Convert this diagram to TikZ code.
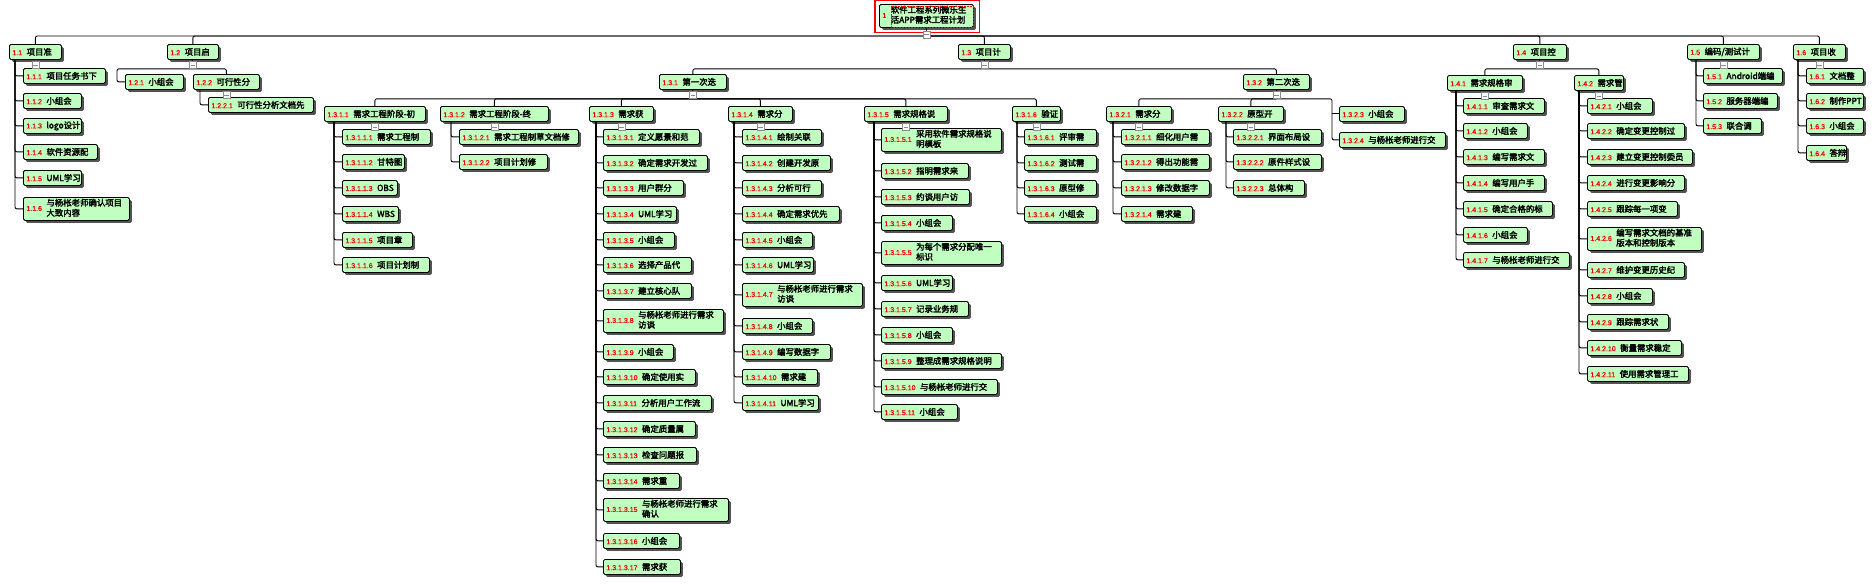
\documentclass[tikz,border=0pt]{standalone}
\usepackage{fontspec}
\usepackage{xcolor}
\usetikzlibrary{shadows}
\setmainfont{Noto Sans CJK SC}
\newfontfamily\wtext{Noto Sans CJK SC}[FakeBold=2.5]
\newfontfamily\wnumf{Liberation Sans}[FakeBold=1]
\definecolor{wbsgreen}{RGB}{192,255,192}
\definecolor{numred}{RGB}{240,0,0}
\newcommand\wnum[1]{{\wnumf\fontsize{7}{9}\selectfont\color{numred}#1}}
\newcommand\wb[6]{\node[wbs] (#1) at (#2,#3) {\makebox[#4pt][l]{\hspace{3pt}\wnum{#5}\hspace{4.5pt}#6}};}
\newcommand\wbb[7]{\node[wbs, minimum height=23pt] (#1) at (#2,#3) {\makebox[#4pt][l]{\hspace{3pt}\wnum{#5}\hspace{4.5pt}\begin{tabular}[c]{@{}l@{}}#6\\#7\end{tabular}}};}
\tikzset{
  wbs/.style={draw, line width=0.8pt, rounded corners=1.5pt, fill=wbsgreen, anchor=north west, inner sep=0pt, minimum height=15pt, font=\wtext\fontsize{8.4}{10}\selectfont, drop shadow={shadow xshift=2.5pt, shadow yshift=-2.5pt, fill=black!75, opacity=0.9}},
  link/.style={line width=0.9pt, rounded corners=2pt},
  tog/.style={draw=black!45, fill=white, line width=0.7pt, minimum size=7pt, inner sep=0pt, path picture={\draw[line width=0.9pt] ([xshift=1.3pt]path picture bounding box.west) -- ([xshift=-1.3pt]path picture bounding box.east);}},
}

\begin{document}
\begin{tikzpicture}[x=1pt,y=-1pt]
        \useasboundingbox (0,0) rectangle (1874,584);

        \wbb{n1}{879}{4}{94}{1}{软件工程系列微乐生}{活APP需求工程计划}
        \draw[red, line width=1.1pt] ([shift={(-4pt,3.4pt)}]n1.north west) rectangle ([shift={(6pt,-5pt)}]n1.south east);
        \draw[red, line width=0.5pt, densely dotted] ([shift={(12pt,-2pt)}]n1.north west) rectangle ([shift={(-1pt,1pt)}]n1.south east);

        \wb{n11}{9}{44}{52}{1.1}{项目准}
        \wb{n12}{167}{44}{51}{1.2}{项目启}
        \wb{n13}{958}{44}{52}{1.3}{项目计}
        \wb{n14}{1513}{44}{53}{1.4}{项目控}
        \wb{n15}{1687}{44}{72}{1.5}{编码/测试计}
        \wb{n16}{1793}{44}{52}{1.6}{项目收}

        \wb{n111}{23}{68}{82}{1.1.1}{项目任务书下}
        \wb{n112}{23}{93}{58}{1.1.2}{小组会}
        \wb{n113}{23}{118}{58}{1.1.3}{logo设计}
        \wb{n114}{23}{144}{74}{1.1.4}{软件资源配}
        \wb{n115}{23}{170}{58}{1.1.5}{UML学习}
        \wbb{n116}{23}{197}{106}{1.1.6}{与杨枨老师确认项目}{大致内容}

        \wb{n121}{125}{74}{58}{1.2.1}{小组会}
        \wb{n122}{193}{74}{66}{1.2.2}{可行性分}
        \wb{n1221}{208}{97}{105}{1.2.2.1}{可行性分析文档先}

        \wb{n131}{659}{74}{67}{1.3.1}{第一次迭}
        \wb{n132}{1243}{74}{66}{1.3.2}{第二次迭}

        \wb{n1311}{324}{106}{101}{1.3.1.1}{需求工程阶段-初}
        \wb{n1312}{440}{106}{108}{1.3.1.2}{需求工程阶段-终}
        \wb{n1313}{589}{106}{64}{1.3.1.3}{需求获}
        \wb{n1314}{728}{106}{64}{1.3.1.4}{需求分}
        \wb{n1315}{864}{106}{83}{1.3.1.5}{需求规格说}
        \wb{n1316}{1012}{106}{48}{1.3.1.6}{验证}

        \wb{n13111}{342}{129}{88}{1.3.1.1.1}{需求工程制}
        \wb{n13112}{342}{154}{62}{1.3.1.1.2}{甘特图}
        \wb{n13113}{342}{180}{55}{1.3.1.1.3}{OBS}
        \wb{n13114}{342}{206}{56}{1.3.1.1.4}{WBS}
        \wb{n13115}{342}{232}{70}{1.3.1.1.5}{项目章}
        \wb{n13116}{342}{257}{87}{1.3.1.1.6}{项目计划制}

        \wb{n13121}{459}{129}{119}{1.3.1.2.1}{需求工程制草文档修}
        \wb{n13122}{459}{154}{88}{1.3.1.2.2}{项目计划修}

        \wb{n13131}{603}{129}{96}{1.3.1.3.1}{定义愿景和范}
        \wb{n13132}{603}{155}{104}{1.3.1.3.2}{确定需求开发过}
        \wb{n13133}{603}{180}{80}{1.3.1.3.3}{用户群分}
        \wb{n13134}{603}{206}{73}{1.3.1.3.4}{UML学习}
        \wb{n13135}{603}{232}{71}{1.3.1.3.5}{小组会}
        \wb{n13136}{603}{257}{88}{1.3.1.3.6}{选择产品代}
        \wb{n13137}{603}{283}{88}{1.3.1.3.7}{建立核心队}
        \wbb{n13138}{603}{309}{120}{1.3.1.3.8}{与杨枨老师进行需求}{访谈}
        \wb{n13139}{603}{344}{70}{1.3.1.3.9}{小组会}
        \wb{n131310}{603}{369}{92}{1.3.1.3.10}{确定使用实}
        \wb{n131311}{603}{395}{108}{1.3.1.3.11}{分析用户工作流}
        \wb{n131312}{603}{421}{92}{1.3.1.3.12}{确定质量属}
        \wb{n131313}{603}{447}{93}{1.3.1.3.13}{检查问题报}
        \wb{n131314}{603}{473}{76}{1.3.1.3.14}{需求重}
        \wbb{n131315}{603}{498}{125}{1.3.1.3.15}{与杨枨老师进行需求}{确认}
        \wb{n131316}{603}{533}{76}{1.3.1.3.16}{小组会}
        \wb{n131317}{603}{559}{77}{1.3.1.3.17}{需求获}

        \wb{n13141}{742}{129}{79}{1.3.1.4.1}{绘制关联}
        \wb{n13142}{742}{155}{88}{1.3.1.4.2}{创建开发原}
        \wb{n13143}{742}{180}{79}{1.3.1.4.3}{分析可行}
        \wb{n13144}{742}{206}{97}{1.3.1.4.4}{确定需求优先}
        \wb{n13145}{742}{232}{70}{1.3.1.4.5}{小组会}
        \wb{n13146}{742}{257}{71}{1.3.1.4.6}{UML学习}
        \wbb{n13147}{742}{283}{120}{1.3.1.4.7}{与杨枨老师进行需求}{访谈}
        \wb{n13148}{742}{318}{70}{1.3.1.4.8}{小组会}
        \wb{n13149}{742}{344}{88}{1.3.1.4.9}{编写数据字}
        \wb{n131410}{742}{369}{75}{1.3.1.4.10}{需求建}
        \wb{n131411}{742}{395}{76}{1.3.1.4.11}{UML学习}

        \wbb{n13151}{881}{128}{120}{1.3.1.5.1}{采用软件需求规格说}{明模板}
        \wb{n13152}{881}{163}{87}{1.3.1.5.2}{指明需求来}
        \wb{n13153}{881}{189}{88}{1.3.1.5.3}{约谈用户访}
        \wb{n13154}{881}{215}{71}{1.3.1.5.4}{小组会}
        \wbb{n13155}{881}{241}{120}{1.3.1.5.5}{为每个需求分配唯一}{标识}
        \wb{n13156}{881}{275}{71}{1.3.1.5.6}{UML学习}
        \wb{n13157}{881}{301}{87}{1.3.1.5.7}{记录业务规}
        \wb{n13158}{881}{327}{71}{1.3.1.5.8}{小组会}
        \wb{n13159}{881}{353}{120}{1.3.1.5.9}{整理成需求规格说明}
        \wb{n131510}{881}{379}{116}{1.3.1.5.10}{与杨枨老师进行交}
        \wb{n131511}{881}{404}{76}{1.3.1.5.11}{小组会}

        \wb{n13161}{1024}{129}{72}{1.3.1.6.1}{评审需}
        \wb{n13162}{1024}{155}{72}{1.3.1.6.2}{测试需}
        \wb{n13163}{1024}{180}{72}{1.3.1.6.3}{原型修}
        \wb{n13164}{1024}{206}{72}{1.3.1.6.4}{小组会}

        \wb{n1321}{1106}{106}{65}{1.3.2.1}{需求分}
        \wb{n1322}{1218}{106}{65}{1.3.2.2}{原型开}
        \wb{n1323}{1339}{106}{65}{1.3.2.3}{小组会}
        \wb{n1324}{1339}{132}{106}{1.3.2.4}{与杨枨老师进行交}

        \wb{n13211}{1121}{129}{88}{1.3.2.1.1}{细化用户需}
        \wb{n13212}{1121}{154}{88}{1.3.2.1.2}{得出功能需}
        \wb{n13213}{1121}{180}{88}{1.3.2.1.3}{修改数据字}
        \wb{n13214}{1121}{206}{71}{1.3.2.1.4}{需求建}
        \wb{n13221}{1233}{129}{88}{1.3.2.2.1}{界面布局设}
        \wb{n13222}{1233}{154}{88}{1.3.2.2.2}{原件样式设}
        \wb{n13223}{1233}{180}{71}{1.3.2.2.3}{总体构}

        \wb{n141}{1447}{75}{75}{1.4.1}{需求规格审}
        \wb{n142}{1574}{75}{49}{1.4.2}{需求管}

        \wb{n1411}{1463}{98}{81}{1.4.1.1}{审查需求文}
        \wb{n1412}{1463}{123}{64}{1.4.1.2}{小组会}
        \wb{n1413}{1463}{149}{81}{1.4.1.3}{编写需求文}
        \wb{n1414}{1463}{175}{81}{1.4.1.4}{编写用户手}
        \wb{n1415}{1463}{201}{89}{1.4.1.5}{确定合格的标}
        \wb{n1416}{1463}{227}{64}{1.4.1.6}{小组会}
        \wb{n1417}{1463}{252}{106}{1.4.1.7}{与杨枨老师进行交}

        \wb{n1421}{1587}{98}{65}{1.4.2.1}{小组会}
        \wb{n1422}{1587}{123}{97}{1.4.2.2}{确定变更控制过}
        \wb{n1423}{1587}{149}{105}{1.4.2.3}{建立变更控制委员}
        \wb{n1424}{1587}{175}{97}{1.4.2.4}{进行变更影响分}
        \wb{n1425}{1587}{201}{90}{1.4.2.5}{跟踪每一项变}
        \wbb{n1426}{1587}{227}{114}{1.4.2.6}{编写需求文档的基准}{版本和控制版本}
        \wb{n1427}{1587}{262}{97}{1.4.2.7}{维护变更历史纪}
        \wb{n1428}{1587}{288}{65}{1.4.2.8}{小组会}
        \wb{n1429}{1587}{314}{81}{1.4.2.9}{跟踪需求状}
        \wb{n14210}{1587}{340}{94}{1.4.2.10}{衡量需求稳定}
        \wb{n14211}{1587}{366}{101}{1.4.2.11}{使用需求管理工}

        \wb{n151}{1703}{68}{79}{1.5.1}{Android端编}
        \wb{n152}{1703}{93}{74}{1.5.2}{服务器端编}
        \wb{n153}{1703}{118}{58}{1.5.3}{联合调}

        \wb{n161}{1806}{68}{57}{1.6.1}{文档整}
        \wb{n162}{1806}{93}{57}{1.6.2}{制作PPT}
        \wb{n163}{1806}{118}{57}{1.6.3}{小组会}
        \wb{n164}{1806}{145}{40}{1.6.4}{答辩}

        \coordinate (b1) at (926,36);
        \draw[link] (n1.south) -- (b1);
        \foreach \c in {n11,n12,n13,n14,n15,n16} {
            \draw[link] (b1) -| (\c.north);
        }

        \coordinate (b12) at ([yshift=-9pt]n12.south);
        \draw[link] (n12.south) -- (b12);
        \draw[link] (b12) -| ([xshift=-8pt]n121.west) -- (n121.west);
        \draw[link] (b12) -| (n122.north);

        \coordinate (b13) at ([yshift=-9pt]n13.south);
        \draw[link] (n13.south) -- (b13);
        \foreach \c in {n131,n132} {
            \draw[link] (b13) -| (\c.north);
        }

        \coordinate (b131) at ([yshift=-9pt]n131.south);
        \draw[link] (n131.south) -- (b131);
        \foreach \c in {n1311,n1312,n1313,n1314,n1315,n1316} {
            \draw[link] (b131) -| (\c.north);
        }

        \coordinate (b132) at ([yshift=-9pt]n132.south);
        \draw[link] (n132.south) -- (b132);
        \foreach \c in {n1321,n1322} {
            \draw[link] (b132) -| (\c.north);
        }
        \draw[link] (b132) -| ([xshift=-7pt]n1324.west) -- (n1324.west);
        \draw[link] ([xshift=-7pt]n1323.west) -- (n1323.west);

        \coordinate (b14) at ([yshift=-9pt]n14.south);
        \draw[link] (n14.south) -- (b14);
        \foreach \c in {n141,n142} {
            \draw[link] (b14) -| (\c.north);
        }

        \coordinate (s11) at (15,59);
        \coordinate (s122) at (200,89);
        \coordinate (s1311) at (334,121);
        \coordinate (s1312) at (451,121);
        \coordinate (s1313) at (596,121);
        \coordinate (s1314) at (734,121);
        \coordinate (s1315) at (874,121);
        \coordinate (s1316) at (1017,121);
        \coordinate (s1321) at (1113,121);
        \coordinate (s1322) at (1226,121);
        \coordinate (s141) at (1456,90);
        \coordinate (s142) at (1579,90);
        \coordinate (s15) at (1696,59);
        \coordinate (s16) at (1798,59);

        \foreach \i in {1,...,6} { \draw[link] (s11) |- (n11\i.west); }
        \draw[link] (s122) |- (n1221.west);
        \foreach \i in {1,...,6} { \draw[link] (s1311) |- (n1311\i.west); }
        \foreach \i in {1,2} { \draw[link] (s1312) |- (n1312\i.west); }
        \foreach \i in {1,...,17} { \draw[link] (s1313) |- (n1313\i.west); }
        \foreach \i in {1,...,11} { \draw[link] (s1314) |- (n1314\i.west); }
        \foreach \i in {1,...,11} { \draw[link] (s1315) |- (n1315\i.west); }
        \foreach \i in {1,...,4} { \draw[link] (s1316) |- (n1316\i.west); }
        \foreach \i in {1,...,4} { \draw[link] (s1321) |- (n1321\i.west); }
        \foreach \i in {1,2,3} { \draw[link] (s1322) |- (n1322\i.west); }
        \foreach \i in {1,...,7} { \draw[link] (s141) |- (n141\i.west); }
        \foreach \i in {1,...,11} { \draw[link] (s142) |- (n142\i.west); }
        \foreach \i in {1,2,3} { \draw[link] (s15) |- (n15\i.west); }
        \foreach \i in {1,...,4} { \draw[link] (s16) |- (n16\i.west); }

        \node[tog] (tn1) at ([yshift=-7pt]n1.south) {};
        \foreach \p in {n11,n12,n122,n13,n131,n1311,n1312,n1313,n1314,n1315,n1316,n132,n1321,n1322,n14,n141,n142,n15,n16} {
            \node[tog] (t\p) at ([yshift=-5.5pt]\p.south) {};
        }
    \end{tikzpicture}
\end{document}
